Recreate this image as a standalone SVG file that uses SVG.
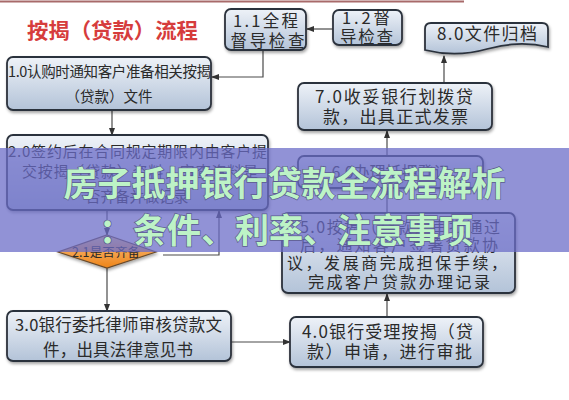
<svg xmlns="http://www.w3.org/2000/svg" width="569" height="400" viewBox="0 0 569 400">
<defs>
<linearGradient id="boxg" x1="0" y1="0" x2="0" y2="1">
<stop offset="0" stop-color="#eef2f8"/>
<stop offset="1" stop-color="#b3c3d8"/>
</linearGradient>
<linearGradient id="diag" x1="0" y1="0" x2="0" y2="1">
<stop offset="0" stop-color="#f8d8a8"/>
<stop offset="0.5" stop-color="#f4a450"/>
<stop offset="1" stop-color="#ee8418"/>
</linearGradient>
<filter id="sh" x="-10%" y="-10%" width="125%" height="140%">
<feDropShadow dx="1" dy="2" stdDeviation="1.5" flood-color="#000" flood-opacity="0.35"/>
</filter>
<marker id="arr" markerUnits="userSpaceOnUse" markerWidth="8" markerHeight="6" refX="7" refY="3" orient="auto">
<path d="M0,0 L8,3 L0,6 z" fill="#333"/>
</marker>
</defs>
<style>
.box{fill:url(#boxg);stroke:#2c323c;stroke-width:1.8;filter:url(#sh)}
.t{font-family:"Noto Sans CJK SC","Noto Sans CJK JP",sans-serif;fill:#2a2a2a;text-anchor:middle}
.c{fill:none;stroke:#4a4a4a;stroke-width:1.2;marker-end:url(#arr)}
.ban{font-family:"Noto Sans CJK SC",sans-serif;font-weight:bold;font-size:34px;fill:#bdf3c6;stroke:#5c5c90;stroke-width:1.4;paint-order:stroke;text-anchor:middle}
</style>
<rect width="569" height="400" fill="#ffffff"/>
<path d="M0,1.5 H464" stroke="#a86a6a" stroke-width="2"/>
<text x="27" y="38" font-family="Noto Sans CJK SC,sans-serif" font-weight="bold" font-size="21" fill="#d63c3c" textLength="171" lengthAdjust="spacingAndGlyphs">按揭（贷款）流程</text>

<g id="connectors">
<path class="c" d="M333,29 H307"/>
<path class="c" d="M263,50 V77 H212"/>
<path class="c" d="M112,110 V135"/>
<path class="c" d="M107,210 V235"/>
<path class="c" d="M107,268 V311"/>
<path class="c" d="M163,255 H219 V211"/>
<path class="c" d="M231,342 H290"/>
<path class="c" d="M387,317 V294"/>
<path class="c" d="M387,213 V188"/>
<path class="c" d="M387,155 V131"/>
<path class="c" d="M444,83 V56"/>
</g>

<g id="n11">
<rect class="box" x="225" y="9" width="81" height="41" rx="6"/>
<text class="t" font-size="16.5" x="265.5" y="27" textLength="65">1.1全程</text>
<text class="t" font-size="16.5" x="267.5" y="47" textLength="74">督导检查</text>
</g>
<g id="n12">
<rect class="box" x="333" y="10" width="69" height="35" rx="6"/>
<text class="t" font-size="16.5" x="366" y="24" textLength="48">1.2督</text>
<text class="t" font-size="16.5" x="366.5" y="43" textLength="53">导检查</text>
</g>
<g id="n80">
<path class="box" d="M431,23 H542 Q548,23 548,29 V47 C528,42 508,43 487,49 C466,55 445,55 425,50 V29 Q425,23 431,23 Z"/>
<text class="t" font-size="17" x="487" y="40" textLength="100">8.0文件归档</text>
</g>
<g id="n10">
<rect class="box" x="7" y="57" width="204" height="53" rx="6"/>
<text class="t" font-size="14.5" x="109.5" y="77" textLength="203">1.0认购时通知客户准备相关按揭</text>
<text class="t" font-size="14.5" x="109" y="102">（贷款）文件</text>
</g>
<g id="n70">
<rect class="box" x="298" y="83" width="194" height="47" rx="6"/>
<text class="t" font-size="17" x="394" y="103" textLength="158">7.0收妥银行划拨贷</text>
<text class="t" font-size="17" x="395.5" y="123" textLength="145">款，出具正式发票</text>
</g>
<g id="n20">
<rect class="box" x="7" y="135" width="261" height="75" rx="6"/>
<text class="t" font-size="15" x="137.5" y="157" textLength="259">2.0签约后在合同规定期限内由客户提</text>
<text class="t" font-size="15" x="140" y="177" textLength="236">交按揭（贷款）资料，审查资料是</text>
<text class="t" font-size="15" x="137" y="202" textLength="103">否齐备并做记录</text>
</g>
<g id="n60">
<rect class="box" x="298" y="156" width="185" height="32" rx="6"/>
<text class="t" font-size="16" x="390.5" y="178">6.0办理抵押登记</text>
</g>
<g id="n21">
<polygon points="107,235 156,252 107,268 58,252" fill="url(#diag)" stroke="#6a4a2a" stroke-width="1.2" filter="url(#sh)"/>
<text class="t" font-size="12.5" x="106" y="256.5" textLength="68">2.1是否齐备</text>
</g>
<g id="n50">
<rect class="box" x="282" y="213" width="233" height="80" rx="6"/>
<text class="t" font-size="16" x="400" y="233" textLength="200">5.0按揭（贷款）审批通过</text>
<text class="t" font-size="16" x="399" y="251" textLength="198">后，通知客户签署贷款协</text>
<text class="t" font-size="16" x="397" y="269" textLength="220">议，发展商完成担保手续，</text>
<text class="t" font-size="16" x="399" y="288" textLength="182">完成客户贷款办理记录</text>
</g>
<g id="n30">
<rect class="box" x="7" y="311" width="224" height="50" rx="6"/>
<text class="t" font-size="16.5" x="118.5" y="331" textLength="207">3.0银行委托律师审核贷款文</text>
<text class="t" font-size="16.5" x="118" y="356" textLength="150">件，出具法律意见书</text>
</g>
<g id="n40">
<rect class="box" x="290" y="317" width="193" height="50" rx="6"/>
<text class="t" font-size="17" x="387.5" y="338" textLength="171">4.0银行受理按揭（贷</text>
<text class="t" font-size="17" x="389.5" y="358" textLength="165">款）申请，进行审批</text>
</g>

<g id="banner">
<rect x="0" y="148" width="569" height="104" fill="#6b6cc8" opacity="0.74"/>
<text class="ban" x="284.5" y="196">房子抵押银行贷款全流程解析</text>
<text class="ban" x="286" y="243">：条件、利率、注意事项</text>
</g>
</svg>
